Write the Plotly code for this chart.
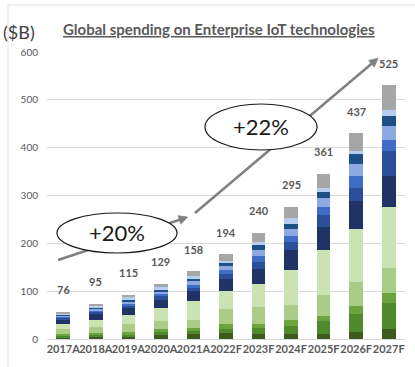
import math
import plotly.graph_objects as go

years = ["2017A", "2018A", "2019A", "2020A", "2021A", "2022F",
         "2023F", "2024F", "2025F", "2026F", "2027F"]
total_labels = [76, 95, 115, 129, 158, 194, 240, 295, 361, 437, 525]

# stacked segments, bottom to top
seg_dark_green = [4, 6, 6, 8, 11, 13, 10, 11, 11, 15, 21]
seg_mid_green = [3, 4, 4, 6, 6, 8, 12, 17, 27, 38, 55]
seg_green = [3, 3, 4, 6, 6, 11, 10, 11, 11, 17, 21]
seg_light_olive = [10, 13, 17, 17, 17, 30, 35, 32, 42, 49, 51]
seg_pale_green = [11, 14, 19, 28, 40, 38, 48, 74, 95, 110, 127]
seg_navy = [9, 12, 15, 17, 21, 25, 32, 42, 49, 59, 66]
seg_royal = [4, 5, 6, 8, 6, 11, 15, 15, 25, 27, 53]
seg_mid_blue = [2, 3, 4, 4, 6, 8, 12, 13, 17, 25, 21]
seg_periwinkle = [3, 3, 4, 6, 8, 8, 12, 15, 17, 25, 30]
seg_steel = [2, 3, 4, 4, 6, 6, 10, 11, 13, 21, 21]
seg_pale_blue = [3, 3, 4, 4, 4, 6, 6, 11, 8, 6, 13]
seg_grey = [3, 5, 6, 8, 11, 13, 20, 25, 30, 38, 51]

segments = [
    (seg_dark_green, "#3e5a1f"),
    (seg_mid_green, "#4f8a2d"),
    (seg_green, "#6da33c"),
    (seg_light_olive, "#a9cd86"),
    (seg_pale_green, "#cae3b2"),
    (seg_navy, "#1f3367"),
    (seg_royal, "#2c4f9b"),
    (seg_mid_blue, "#3f6cc4"),
    (seg_periwinkle, "#8ca9e2"),
    (seg_steel, "#1f4f87"),
    (seg_pale_blue, "#b6cef0"),
    (seg_grey, "#a6a6a6"),
]

W, H = 415, 367
ML, MR, MT, MB = 47, 10, 52, 28
PW, PH = W - ML - MR, H - MT - MB


def px(x):
    return (x - ML) / PW


def py(y):
    return (H - MB - y) / PH


fig = go.Figure()
for vals, col in segments:
    fig.add_trace(go.Bar(x=years, y=vals, marker=dict(color=col, line=dict(width=0)),
                         showlegend=False, hoverinfo="skip"))

bar_tops = [sum(s[0][i] for s in segments) for i in range(len(years))]
annotations = []
for yr, top, lab in zip(years, bar_tops, total_labels):
    annotations.append(dict(x=yr, y=top, xref="x", yref="y", text=f"<b>{lab}</b>",
                            showarrow=False, yshift=22, yanchor="middle",
                            font=dict(family="Lato", size=11, color="#595959")))

annotations.append(dict(x=px(219), y=py(29), xref="paper", yref="paper",
                        text="<b><u>Global spending on Enterprise IoT technologies</u></b>",
                        showarrow=False, xanchor="center", yanchor="middle",
                        font=dict(family="Lato", size=15, color="#595959")))
annotations.append(dict(x=px(1), y=py(32), xref="paper", yref="paper", text="($B)",
                        showarrow=False, xanchor="left", yanchor="middle",
                        font=dict(family="Lato", size=18, color="#404040")))
annotations.append(dict(x=px(117), y=py(233), xref="paper", yref="paper", text="+20%",
                        showarrow=False, xanchor="center", yanchor="middle",
                        font=dict(family="Lato", size=22, color="#1a1a1a")))
annotations.append(dict(x=px(261), y=py(127), xref="paper", yref="paper", text="+22%",
                        showarrow=False, xanchor="center", yanchor="middle",
                        font=dict(family="Lato", size=22, color="#1a1a1a")))

shapes = []
arrow_col = "#808080"


def add_arrow(x0, y0, x1, y1):
    shapes.append(dict(type="line", xref="paper", yref="paper",
                       x0=px(x0), y0=py(y0), x1=px(x1), y1=py(y1),
                       line=dict(color=arrow_col, width=2.5)))
    dx, dy = x1 - x0, y1 - y0
    L = math.hypot(dx, dy)
    ux, uy = dx / L, dy / L
    nx, ny = -uy, ux
    hl, hw = 9, 4.5
    bx, by = x1 + ux * 3 - ux * hl, y1 + uy * 3 - uy * hl
    tip = (x1 + ux * 3, y1 + uy * 3)
    p1 = (bx + nx * hw, by + ny * hw)
    p2 = (bx - nx * hw, by - ny * hw)
    path = "M {} {} L {} {} L {} {} Z".format(px(tip[0]), py(tip[1]), px(p1[0]), py(p1[1]),
                                              px(p2[0]), py(p2[1]))
    shapes.append(dict(type="path", xref="paper", yref="paper", path=path,
                       fillcolor=arrow_col, line=dict(color=arrow_col, width=0.5)))


add_arrow(58, 260, 185, 218)
add_arrow(195, 213, 376, 60)


def add_ellipse(cx, cy, rx, ry):
    shapes.append(dict(type="circle", xref="paper", yref="paper",
                       x0=px(cx - rx), x1=px(cx + rx), y0=py(cy + ry), y1=py(cy - ry),
                       fillcolor="white", line=dict(color="#1a1a1a", width=1.2)))


add_ellipse(117, 233, 60, 20)
add_ellipse(261, 127, 56, 23)

# faint image frame
shapes.append(dict(type="rect", xref="paper", yref="paper", layer="below",
                   x0=px(8), x1=px(440), y0=py(400), y1=py(5),
                   line=dict(color="#e3e3e3", width=1)))

fig.update_layout(
    barmode="stack",
    bargap=0.58,
    width=W, height=H,
    margin=dict(l=ML, r=MR, t=MT, b=MB),
    paper_bgcolor="white", plot_bgcolor="white",
    annotations=annotations,
    shapes=shapes,
    xaxis=dict(type="category", showgrid=False, showline=True, linecolor="#d9d9d9",
               linewidth=1, ticks="", tickangle=0,
               tickfont=dict(family="Lato", size=11, color="#595959", weight="bold")),
    yaxis=dict(range=[0, 600], dtick=100, showgrid=True, gridcolor="#d9d9d9",
               gridwidth=1, zeroline=False, ticks="", ticklabelstandoff=8,
               tickfont=dict(family="Lato", size=10, color="#595959")),
)

fig.write_html("out.html")
